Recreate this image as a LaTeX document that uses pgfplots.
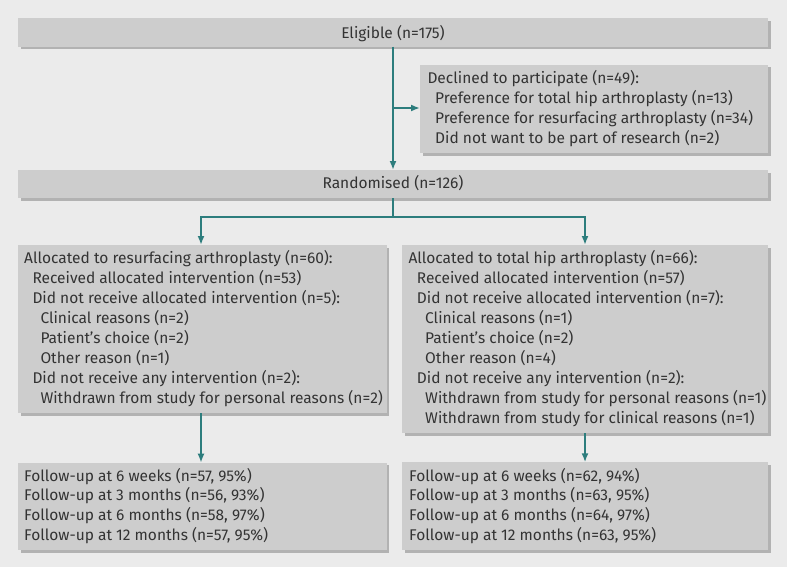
\documentclass[border=0pt]{standalone}
\usepackage{pgfplots}
\pgfplotsset{compat=1.18}
\usepackage{fontspec}
\setmainfont{Fira Sans}
\usetikzlibrary{arrows.meta}
\definecolor{bg}{HTML}{EBEBEB}
\definecolor{boxgray}{HTML}{CDCDCD}
\definecolor{shadowgray}{HTML}{B2B2B2}
\definecolor{flowteal}{RGB}{45,125,125}
\definecolor{txt}{HTML}{333333}
\newcommand{\tl}[3]{\node[anchor=base west, inner sep=0pt, text=txt, font=\fontsize{15.5bp}{20bp}\selectfont] at (axis cs:#1,#2) {#3};}
\newcommand{\tc}[3]{\node[anchor=base, inner sep=0pt, text=txt, font=\fontsize{15.5bp}{20bp}\selectfont] at (axis cs:#1,#2) {#3};}
\begin{document}
\begin{tikzpicture}
\begin{axis}[
  scale only axis, width=787bp, height=567bp,
  xmin=0, xmax=787, ymin=0, ymax=567, y dir=reverse,
  hide axis, clip=false, no markers,
  every axis plot/.append style={line join=miter},
]
% background
\addplot[fill=bg, draw=none] coordinates {(0,0) (787,0) (787,567) (0,567)} -- cycle;
% shadows
\addplot[fill=shadowgray, draw=none] coordinates {(20.5,20.8) (770.5,20.8) (770.5,49.2) (20.5,49.2)} -- cycle;
\addplot[fill=shadowgray, draw=none] coordinates {(422.5,67.5) (770.5,67.5) (770.5,155.5) (422.5,155.5)} -- cycle;
\addplot[fill=shadowgray, draw=none] coordinates {(20.5,172.5) (770.5,172.5) (770.5,200.5) (20.5,200.5)} -- cycle;
\addplot[fill=shadowgray, draw=none] coordinates {(20.5,247.5) (389.2,247.5) (389.2,415.5) (20.5,415.5)} -- cycle;
\addplot[fill=shadowgray, draw=none] coordinates {(404.5,247.5) (770.5,247.5) (770.5,435.5) (404.5,435.5)} -- cycle;
\addplot[fill=shadowgray, draw=none] coordinates {(20.5,465.2) (389.2,465.2) (389.2,552.5) (20.5,552.5)} -- cycle;
\addplot[fill=shadowgray, draw=none] coordinates {(404.5,464.8) (770.5,464.8) (770.5,552.5) (404.5,552.5)} -- cycle;
% boxes
\addplot[fill=boxgray, draw=none] coordinates {(18,18.3) (768,18.3) (768,46.7) (18,46.7)} -- cycle;
\addplot[fill=boxgray, draw=none] coordinates {(420,65) (768,65) (768,153) (420,153)} -- cycle;
\addplot[fill=boxgray, draw=none] coordinates {(18,170) (768,170) (768,198) (18,198)} -- cycle;
\addplot[fill=boxgray, draw=none] coordinates {(18,245) (386.7,245) (386.7,413) (18,413)} -- cycle;
\addplot[fill=boxgray, draw=none] coordinates {(402,245) (768,245) (768,433) (402,433)} -- cycle;
\addplot[fill=boxgray, draw=none] coordinates {(18,462.7) (386.7,462.7) (386.7,550) (18,550)} -- cycle;
\addplot[fill=boxgray, draw=none] coordinates {(402,462.3) (768,462.3) (768,550) (402,550)} -- cycle;
% connectors
\addplot[flowteal, line width=1.8bp, -{Latex[length=9bp,width=7bp]}] coordinates {(393,46.7) (393,170)};
\addplot[flowteal, line width=1.8bp, -{Latex[length=9bp,width=7bp]}] coordinates {(393,108) (420,108)};
\addplot[flowteal, line width=1.8bp] coordinates {(393,198) (393,216.7)};
\addplot[flowteal, line width=1.8bp, {Latex[length=9bp,width=7bp]}-{Latex[length=9bp,width=7bp]}] coordinates {(201,245) (201,216.7) (585,216.7) (585,245)};
\addplot[flowteal, line width=1.8bp, -{Latex[length=9bp,width=7bp]}] coordinates {(201,413) (201,462.7)};
\addplot[flowteal, line width=1.8bp, -{Latex[length=9bp,width=7bp]}] coordinates {(585,433) (585,462.3)};
% texts
\tc{393}{38.3}{Eligible (n=175)}
\tl{427.3}{83.5}{Declined to participate (n=49):}
\tl{435}{103.5}{Preference for total hip arthroplasty (n=13)}
\tl{435}{123.5}{Preference for resurfacing arthroplasty (n=34)}
\tl{435}{143.5}{Did not want to be part of research (n=2)}
\tc{393}{188.7}{Randomised (n=126)}
% left allocation
\tl{24}{263.3}{Allocated to resurfacing arthroplasty (n=60):}
\tl{32.3}{283.3}{Received allocated intervention (n=53)}
\tl{32.3}{303.3}{Did not receive allocated intervention (n=5):}
\tl{40.3}{323.3}{Clinical reasons (n=2)}
\tl{40.3}{343.3}{Patient’s choice (n=2)}
\tl{40.3}{363.3}{Other reason (n=1)}
\tl{32.3}{383.3}{Did not receive any intervention (n=2):}
\tl{40.3}{403.3}{Withdrawn from study for personal reasons (n=2)}
% right allocation
\tl{408.3}{263.3}{Allocated to total hip arthroplasty (n=66):}
\tl{416.7}{283.3}{Received allocated intervention (n=57)}
\tl{416.7}{303.3}{Did not receive allocated intervention (n=7):}
\tl{425}{323.3}{Clinical reasons (n=1)}
\tl{425}{343.3}{Patient’s choice (n=2)}
\tl{425}{363.3}{Other reason (n=4)}
\tl{416.7}{383.3}{Did not receive any intervention (n=2):}
\tl{425}{403.3}{Withdrawn from study for personal reasons (n=1)}
\tl{425}{423.3}{Withdrawn from study for clinical reasons (n=1)}
% follow-up
\tl{24}{481}{Follow-up at 6 weeks (n=57, 95\%)}
\tl{24}{500.7}{Follow-up at 3 months (n=56, 93\%)}
\tl{24}{520.4}{Follow-up at 6 months (n=58, 97\%)}
\tl{24}{540.1}{Follow-up at 12 months (n=57, 95\%)}
\tl{409}{481}{Follow-up at 6 weeks (n=62, 94\%)}
\tl{409}{500.7}{Follow-up at 3 months (n=63, 95\%)}
\tl{409}{520.4}{Follow-up at 6 months (n=64, 97\%)}
\tl{409}{540.1}{Follow-up at 12 months (n=63, 95\%)}
\end{axis}
\end{tikzpicture}
\end{document}
